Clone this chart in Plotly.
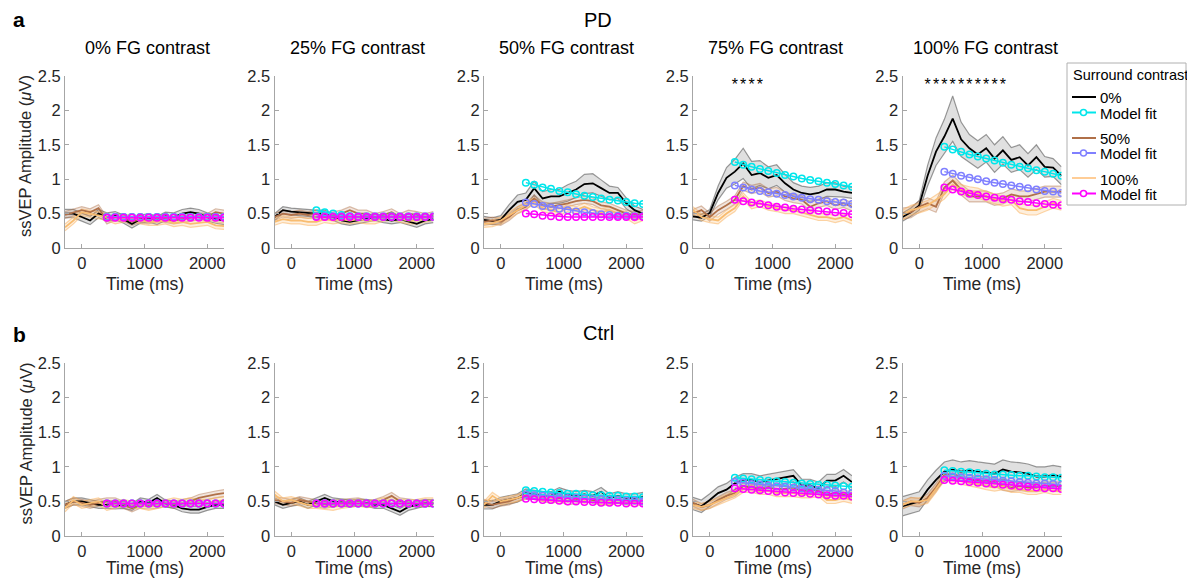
import plotly.graph_objects as go

# ---------------- data ----------------
T = [-267, -133, 0, 133, 267, 400, 533, 667, 800, 933, 1067, 1200, 1333, 1467, 1600, 1733, 1867, 2000, 2133, 2267]
FIT_T = T[5:]
FG_LABELS = ["0% FG contrast", "25% FG contrast", "50% FG contrast", "75% FG contrast", "100% FG contrast"]
X_TICKS = [0, 1000, 2000]
Y_TICKS = [0, 0.5, 1, 1.5, 2, 2.5]
Y_TICK_TEXT = ["0", "0.5", "1", "1.5", "2", "2.5"]
LEGEND_LABELS = ["0%", "Model fit", "50%", "Model fit", "100%", "Model fit"]

# PD group: mean amplitude per FG contrast panel (surround 0%, 50%, 100%)
PD_S0 = [
    [0.50, 0.50, 0.45, 0.40, 0.50, 0.45, 0.47, 0.42, 0.35, 0.42, 0.44, 0.40, 0.46, 0.45, 0.50, 0.52, 0.50, 0.45, 0.42, 0.40],
    [0.45, 0.55, 0.53, 0.52, 0.50, 0.50, 0.50, 0.45, 0.40, 0.38, 0.40, 0.42, 0.45, 0.42, 0.40, 0.42, 0.38, 0.35, 0.40, 0.42],
    [0.41, 0.39, 0.41, 0.55, 0.67, 0.70, 0.87, 0.72, 0.75, 0.75, 0.80, 0.85, 0.93, 0.94, 0.87, 0.80, 0.80, 0.65, 0.55, 0.50],
    [0.46, 0.44, 0.51, 0.80, 1.02, 1.11, 1.23, 1.06, 1.09, 1.02, 1.06, 0.94, 0.85, 0.80, 0.78, 0.80, 0.85, 0.85, 0.82, 0.80],
    [0.45, 0.52, 0.62, 1.05, 1.40, 1.62, 1.88, 1.58, 1.45, 1.36, 1.45, 1.30, 1.42, 1.28, 1.32, 1.20, 1.32, 1.18, 1.17, 1.05],
]
PD_S50 = [
    [0.48, 0.52, 0.55, 0.52, 0.58, 0.40, 0.45, 0.44, 0.38, 0.42, 0.40, 0.44, 0.42, 0.40, 0.42, 0.44, 0.46, 0.45, 0.52, 0.50],
    [0.45, 0.50, 0.48, 0.50, 0.48, 0.50, 0.45, 0.48, 0.50, 0.55, 0.50, 0.50, 0.45, 0.48, 0.52, 0.45, 0.50, 0.48, 0.45, 0.48],
    [0.38, 0.40, 0.38, 0.45, 0.55, 0.60, 0.72, 0.62, 0.60, 0.62, 0.65, 0.68, 0.70, 0.68, 0.62, 0.60, 0.55, 0.50, 0.48, 0.50],
    [0.50, 0.55, 0.45, 0.55, 0.62, 0.70, 0.90, 0.85, 0.88, 0.80, 0.82, 0.75, 0.72, 0.70, 0.60, 0.65, 0.68, 0.62, 0.65, 0.60],
    [0.50, 0.52, 0.60, 0.65, 0.60, 0.88, 0.98, 0.85, 0.75, 0.75, 0.75, 0.70, 0.72, 0.78, 0.75, 0.75, 0.78, 0.82, 0.82, 0.82],
]
PD_S100 = [
    [0.30, 0.40, 0.52, 0.50, 0.48, 0.45, 0.40, 0.42, 0.45, 0.40, 0.38, 0.38, 0.40, 0.36, 0.38, 0.35, 0.36, 0.38, 0.33, 0.32],
    [0.38, 0.42, 0.40, 0.40, 0.38, 0.38, 0.42, 0.40, 0.42, 0.40, 0.42, 0.40, 0.40, 0.44, 0.45, 0.42, 0.40, 0.40, 0.42, 0.45],
    [0.35, 0.36, 0.40, 0.48, 0.55, 0.62, 0.68, 0.58, 0.55, 0.52, 0.58, 0.55, 0.60, 0.55, 0.52, 0.55, 0.50, 0.48, 0.40, 0.45],
    [0.55, 0.45, 0.42, 0.40, 0.50, 0.58, 0.75, 0.62, 0.65, 0.60, 0.58, 0.55, 0.55, 0.52, 0.48, 0.45, 0.45, 0.42, 0.45, 0.40],
    [0.48, 0.55, 0.58, 0.62, 0.70, 0.78, 0.92, 0.85, 0.82, 0.80, 0.75, 0.72, 0.68, 0.70, 0.58, 0.55, 0.55, 0.60, 0.65, 0.62],
]
PD_S0_SEM = [
    [0.06] * 20,
    [0.05] * 20,
    [0.05, 0.05, 0.06, 0.08, 0.10, 0.10, 0.10, 0.10, 0.10, 0.10, 0.12, 0.12, 0.14, 0.14, 0.12, 0.10, 0.08, 0.08, 0.06, 0.06],
    [0.05, 0.05, 0.05, 0.10, 0.15, 0.18, 0.22, 0.20, 0.18, 0.16, 0.15, 0.13, 0.10, 0.10, 0.10, 0.10, 0.10, 0.10, 0.08, 0.08],
    [0.06, 0.06, 0.07, 0.15, 0.20, 0.25, 0.33, 0.25, 0.20, 0.20, 0.20, 0.20, 0.20, 0.18, 0.18, 0.17, 0.18, 0.15, 0.13, 0.13],
]
PD_S50_SEM = [0.05, 0.05, 0.05, 0.06, 0.08]
PD_S100_SEM = [0.05, 0.05, 0.05, 0.05, 0.07]

PD_FIT0 = [
    [0.45] * 15,
    [0.55, 0.52, 0.50, 0.48, 0.46, 0.45, 0.45, 0.45, 0.45, 0.45, 0.45, 0.45, 0.45, 0.45, 0.45],
    [0.95, 0.92, 0.88, 0.86, 0.83, 0.81, 0.78, 0.76, 0.74, 0.72, 0.70, 0.69, 0.67, 0.65, 0.64],
    [1.25, 1.21, 1.18, 1.15, 1.12, 1.09, 1.06, 1.04, 1.01, 0.99, 0.97, 0.95, 0.93, 0.91, 0.89],
    [1.47, 1.43, 1.40, 1.36, 1.33, 1.30, 1.27, 1.24, 1.21, 1.18, 1.16, 1.13, 1.11, 1.08, 1.05],
]
PD_FIT50 = [
    [0.45] * 15,
    [0.46] * 15,
    [0.66, 0.64, 0.61, 0.59, 0.57, 0.55, 0.53, 0.52, 0.51, 0.49, 0.48, 0.47, 0.47, 0.46, 0.46],
    [0.91, 0.88, 0.85, 0.83, 0.81, 0.79, 0.77, 0.75, 0.73, 0.71, 0.70, 0.68, 0.67, 0.66, 0.64],
    [1.11, 1.08, 1.05, 1.02, 1.00, 0.97, 0.95, 0.93, 0.91, 0.89, 0.87, 0.85, 0.83, 0.82, 0.80],
]
PD_FIT100 = [
    [0.44] * 15,
    [0.45] * 15,
    [0.50, 0.49, 0.47, 0.46, 0.45, 0.45, 0.45, 0.45, 0.45, 0.45, 0.45, 0.45, 0.45, 0.45, 0.45],
    [0.70, 0.68, 0.66, 0.64, 0.62, 0.60, 0.59, 0.57, 0.56, 0.55, 0.54, 0.53, 0.52, 0.51, 0.49],
    [0.88, 0.85, 0.82, 0.79, 0.77, 0.75, 0.73, 0.71, 0.70, 0.68, 0.67, 0.65, 0.64, 0.63, 0.62],
]

# Ctrl group
CT_S0 = [
    [0.45, 0.50, 0.50, 0.48, 0.45, 0.45, 0.44, 0.45, 0.42, 0.50, 0.48, 0.55, 0.47, 0.45, 0.40, 0.38, 0.38, 0.42, 0.45, 0.45],
    [0.50, 0.45, 0.48, 0.50, 0.45, 0.50, 0.55, 0.50, 0.48, 0.47, 0.48, 0.48, 0.45, 0.45, 0.40, 0.35, 0.42, 0.45, 0.48, 0.47],
    [0.45, 0.45, 0.50, 0.52, 0.55, 0.62, 0.60, 0.58, 0.58, 0.64, 0.60, 0.58, 0.60, 0.58, 0.64, 0.55, 0.58, 0.55, 0.55, 0.57],
    [0.47, 0.43, 0.52, 0.62, 0.67, 0.76, 0.81, 0.81, 0.78, 0.80, 0.83, 0.85, 0.87, 0.73, 0.73, 0.69, 0.80, 0.80, 0.87, 0.78],
    [0.43, 0.47, 0.50, 0.67, 0.81, 0.93, 0.96, 0.93, 0.95, 0.93, 0.92, 0.90, 0.96, 0.93, 0.92, 0.90, 0.86, 0.86, 0.88, 0.86],
]
CT_S50 = [
    [0.45, 0.50, 0.48, 0.45, 0.48, 0.50, 0.50, 0.45, 0.40, 0.45, 0.44, 0.45, 0.48, 0.45, 0.48, 0.50, 0.55, 0.58, 0.60, 0.62],
    [0.52, 0.50, 0.48, 0.52, 0.50, 0.48, 0.45, 0.47, 0.48, 0.48, 0.50, 0.47, 0.48, 0.52, 0.58, 0.50, 0.48, 0.47, 0.47, 0.48],
    [0.48, 0.45, 0.48, 0.50, 0.55, 0.58, 0.58, 0.55, 0.52, 0.55, 0.50, 0.52, 0.55, 0.52, 0.50, 0.50, 0.52, 0.50, 0.52, 0.50],
    [0.48, 0.42, 0.45, 0.52, 0.58, 0.62, 0.72, 0.70, 0.68, 0.70, 0.68, 0.68, 0.70, 0.65, 0.68, 0.65, 0.60, 0.62, 0.60, 0.60],
    [0.45, 0.50, 0.48, 0.55, 0.70, 0.88, 0.90, 0.85, 0.82, 0.80, 0.80, 0.78, 0.72, 0.70, 0.72, 0.70, 0.70, 0.72, 0.72, 0.72],
]
CT_S100 = [
    [0.40, 0.52, 0.45, 0.48, 0.50, 0.42, 0.45, 0.48, 0.45, 0.45, 0.42, 0.45, 0.48, 0.50, 0.48, 0.50, 0.48, 0.48, 0.50, 0.52],
    [0.60, 0.50, 0.52, 0.48, 0.45, 0.45, 0.43, 0.42, 0.45, 0.47, 0.48, 0.46, 0.47, 0.50, 0.52, 0.48, 0.47, 0.48, 0.50, 0.50],
    [0.45, 0.58, 0.50, 0.52, 0.55, 0.60, 0.58, 0.55, 0.55, 0.52, 0.55, 0.55, 0.52, 0.55, 0.50, 0.50, 0.52, 0.50, 0.48, 0.50],
    [0.45, 0.42, 0.45, 0.50, 0.55, 0.60, 0.68, 0.68, 0.65, 0.65, 0.62, 0.62, 0.62, 0.60, 0.60, 0.62, 0.52, 0.52, 0.55, 0.52],
    [0.45, 0.50, 0.50, 0.52, 0.68, 0.85, 0.82, 0.80, 0.78, 0.75, 0.72, 0.70, 0.72, 0.68, 0.68, 0.65, 0.65, 0.68, 0.65, 0.65],
]
CT_S0_SEM = [0.05, 0.05, 0.06, 0.09, 0.14]
CT_S50_SEM = [0.05, 0.05, 0.05, 0.05, 0.06]
CT_S100_SEM = [0.05, 0.05, 0.05, 0.05, 0.05]

CT_FIT0 = [
    [0.47] * 15,
    [0.47] * 15,
    [0.66, 0.65, 0.64, 0.63, 0.62, 0.61, 0.61, 0.60, 0.59, 0.59, 0.58, 0.58, 0.57, 0.57, 0.56],
    [0.84, 0.83, 0.82, 0.81, 0.80, 0.79, 0.78, 0.77, 0.76, 0.75, 0.74, 0.74, 0.73, 0.72, 0.71],
    [0.95, 0.94, 0.93, 0.92, 0.91, 0.90, 0.89, 0.89, 0.88, 0.87, 0.87, 0.86, 0.85, 0.85, 0.84],
]
CT_FIT50 = [
    [0.47] * 15,
    [0.47] * 15,
    [0.60, 0.59, 0.58, 0.57, 0.56, 0.55, 0.55, 0.54, 0.53, 0.53, 0.52, 0.52, 0.51, 0.51, 0.50],
    [0.78, 0.77, 0.75, 0.74, 0.73, 0.72, 0.71, 0.70, 0.69, 0.68, 0.67, 0.66, 0.65, 0.63, 0.62],
    [0.87, 0.86, 0.85, 0.84, 0.83, 0.82, 0.81, 0.80, 0.79, 0.78, 0.77, 0.76, 0.76, 0.75, 0.74],
]
CT_FIT100 = [
    [0.47] * 15,
    [0.47] * 15,
    [0.54, 0.53, 0.52, 0.52, 0.51, 0.50, 0.50, 0.49, 0.49, 0.48, 0.48, 0.48, 0.47, 0.47, 0.47],
    [0.69, 0.68, 0.67, 0.66, 0.65, 0.64, 0.63, 0.62, 0.62, 0.61, 0.60, 0.59, 0.58, 0.58, 0.57],
    [0.81, 0.80, 0.79, 0.78, 0.77, 0.76, 0.75, 0.74, 0.73, 0.72, 0.71, 0.70, 0.69, 0.69, 0.68],
]

# significance stars (PD, 75% and 100% FG contrast)
STARS_75 = [400, 533, 667, 800]
STARS_100 = [133, 267, 400, 533, 667, 800, 933, 1067, 1200, 1333]
STAR_LEVEL = 2.36

# ---------------- styling ----------------
OFF = 8                      # page body margin offset in the screenshot
W, H = 1195 - 2 * OFF, 588 - 2 * OFF   # figure fits the window without scrolling
FONT = "Liberation Sans, Arial, Helvetica, sans-serif"
TXT = "#262626"
COND = [
    dict(line="rgb(0,0,0)", edge="rgba(0,0,0,0.38)", fill="rgba(0,0,0,0.12)"),
    dict(line="rgb(176,112,72)", edge="rgba(176,112,72,0.45)", fill="rgba(176,112,72,0.18)"),
    dict(line="rgb(248,188,112)", edge="rgba(250,180,100,0.55)", fill="rgba(250,192,120,0.25)"),
]
FITC = ["rgb(0,230,235)", "rgb(128,128,255)", "rgb(255,0,255)"]
LEGEND_COLORS = ["rgb(0,0,0)", FITC[0], "rgb(176,112,72)", FITC[1], "rgb(255,205,150)", FITC[2]]
LEGEND_Y = [97, 112.5, 138, 153, 178, 193.5]

LEFTS = [65, 274.5, 484, 693, 902.5]
PW = 159
ROWS = [(76, 248), (363, 536)]
XLABEL_Y = [284, 568]


def fx(p):
    return (p - OFF) / W


def fy(p):
    return 1 - (p - OFF) / H


fig = go.Figure()
layout = {}
annotations = []
shapes = []


def as_list(v):
    return v if isinstance(v, list) else [v] * len(T)


def note(text, x, y, size, color="black", angle=0, xanchor="center"):
    return dict(text=text, x=fx(x), y=fy(y), xref="paper", yref="paper", showarrow=False,
                xanchor=xanchor, yanchor="middle", textangle=angle,
                font=dict(family=FONT, size=size, color=color))


groups = [
    (PD_S0, PD_S50, PD_S100, PD_S0_SEM, PD_S50_SEM, PD_S100_SEM, PD_FIT0, PD_FIT50, PD_FIT100),
    (CT_S0, CT_S50, CT_S100, CT_S0_SEM, CT_S50_SEM, CT_S100_SEM, CT_FIT0, CT_FIT50, CT_FIT100),
]

for r, g in enumerate(groups):
    means = g[0:3]
    sems = g[3:6]
    fits = g[6:9]
    top, bot = ROWS[r]
    for c in range(5):
        idx = r * 5 + c + 1
        xa = "x" if idx == 1 else f"x{idx}"
        ya = "y" if idx == 1 else f"y{idx}"
        for k in range(3):
            m = means[k][c]
            s = as_list(sems[k][c])
            lo = [a - b for a, b in zip(m, s)]
            hi = [a + b for a, b in zip(m, s)]
            fig.add_trace(go.Scatter(x=T, y=lo, mode="lines", line=dict(color=COND[k]["edge"], width=1.2),
                                     showlegend=False, hoverinfo="skip", xaxis=xa, yaxis=ya))
            fig.add_trace(go.Scatter(x=T, y=hi, mode="lines", line=dict(color=COND[k]["edge"], width=1.2),
                                     fill="tonexty", fillcolor=COND[k]["fill"],
                                     showlegend=False, hoverinfo="skip", xaxis=xa, yaxis=ya))
        for k in range(3):
            fig.add_trace(go.Scatter(x=T, y=means[k][c], mode="lines",
                                     line=dict(color=COND[k]["line"], width=1.8),
                                     showlegend=False, xaxis=xa, yaxis=ya))
        for k in range(3):
            fig.add_trace(go.Scatter(x=FIT_T, y=fits[k][c], mode="lines+markers",
                                     line=dict(color=FITC[k], width=1.5),
                                     marker=dict(symbol="circle-open", size=6.5, color=FITC[k],
                                                 line=dict(width=1.5, color=FITC[k])),
                                     showlegend=False, xaxis=xa, yaxis=ya))

        x0 = LEFTS[c]
        layout[f"xaxis{idx}"] = dict(
            domain=[fx(x0), fx(x0 + PW)], anchor=ya, range=[-267, 2267],
            tickvals=X_TICKS, ticktext=[str(v) for v in X_TICKS],
            showline=True, linecolor="#a6a6a6", linewidth=1, ticks="inside", ticklen=4,
            tickcolor="#a6a6a6", showgrid=False, zeroline=False,
            tickfont=dict(family=FONT, size=16.5, color=TXT),
        )
        layout[f"yaxis{idx}"] = dict(
            domain=[fy(bot), fy(top)], anchor=xa, range=[0, 2.5],
            tickvals=Y_TICKS, ticktext=Y_TICK_TEXT,
            showline=True, linecolor="#a6a6a6", linewidth=1, ticks="inside", ticklen=4,
            tickcolor="#a6a6a6", showgrid=False, zeroline=False,
            tickfont=dict(family=FONT, size=16.5, color=TXT),
        )
        annotations.append(note("Time (ms)", x0 + PW / 2, XLABEL_Y[r], 17.5, TXT))
        if r == 0:
            annotations.append(note(FG_LABELS[c], x0 + PW / 2 + 3, 48, 18))
        if c == 0:
            annotations.append(note("ssVEP Amplitude (<i>μ</i>V)", 25, (top + bot) / 2 - 6, 16.5, TXT, -90))

fig.add_trace(go.Scatter(x=STARS_75, y=[STAR_LEVEL] * len(STARS_75), mode="text", text=["*"] * len(STARS_75),
                         textfont=dict(family=FONT, size=16, color="black"), showlegend=False,
                         hoverinfo="skip", xaxis="x4", yaxis="y4"))
fig.add_trace(go.Scatter(x=STARS_100, y=[STAR_LEVEL] * len(STARS_100), mode="text", text=["*"] * len(STARS_100),
                         textfont=dict(family=FONT, size=16, color="black"), showlegend=False,
                         hoverinfo="skip", xaxis="x5", yaxis="y5"))

annotations += [
    note("<b>a</b>", 19, 20, 21),
    note("PD", 598, 20, 20),
    note("<b>b</b>", 19, 334, 21),
    note("Ctrl", 598, 333, 20),
]

# ---------------- legend (drawn manually, MATLAB style) ----------------
shapes.append(dict(type="rect", xref="paper", yref="paper", x0=fx(1067), x1=fx(1186), y0=fy(205), y1=fy(63),
                   line=dict(color="#b0b0b0", width=1), fillcolor="white", layer="above"))
annotations.append(note("Surround contrast", 1071, 75, 14.5, "black", xanchor="left"))
for i, lab in enumerate(LEGEND_LABELS):
    yy = LEGEND_Y[i]
    col = LEGEND_COLORS[i]
    shapes.append(dict(type="line", xref="paper", yref="paper", x0=fx(1072), x1=fx(1096), y0=fy(yy), y1=fy(yy),
                       line=dict(color=col, width=2), layer="above"))
    if i % 2 == 1:
        shapes.append(dict(type="circle", xref="paper", yref="paper", x0=fx(1080.5), x1=fx(1086.5),
                           y0=fy(yy + 3), y1=fy(yy - 3), line=dict(color=col, width=1.5),
                           fillcolor="white", layer="above"))
    annotations.append(note(lab, 1098, yy + 1, 15, "black", xanchor="left"))

fig.update_layout(
    width=W, height=H, margin=dict(l=0, r=0, t=0, b=0, autoexpand=False),
    paper_bgcolor="white", plot_bgcolor="white",
    annotations=annotations, shapes=shapes, showlegend=False,
    **layout,
)

fig.write_html("out.html")
